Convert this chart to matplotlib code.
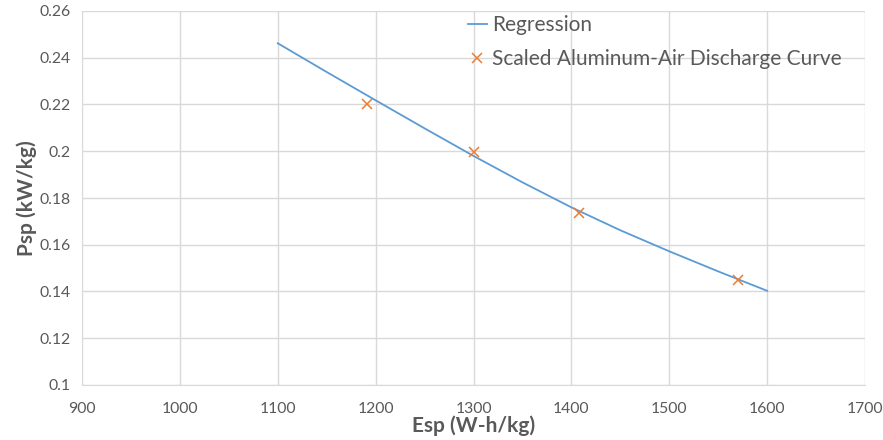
import matplotlib
matplotlib.use("Agg")
import matplotlib.pyplot as plt

# Regression curve
reg_x = [1100, 1150, 1200, 1250, 1300, 1350, 1400, 1450, 1500, 1550, 1600]
reg_y = [0.2462, 0.2339, 0.2218, 0.2098, 0.1980, 0.1867, 0.1760, 0.1662, 0.1572, 0.1486, 0.1403]

# Scaled aluminum-air discharge points
pts_x = [1191, 1300, 1408, 1570]
pts_y = [0.2201, 0.1998, 0.1735, 0.1449]

x_ticks = [900, 1000, 1100, 1200, 1300, 1400, 1500, 1600, 1700]
y_ticks = [0.1, 0.12, 0.14, 0.16, 0.18, 0.2, 0.22, 0.24, 0.26]
y_labels = ["0.1", "0.12", "0.14", "0.16", "0.18", "0.2", "0.22", "0.24", "0.26"]

plt.rcParams['font.family'] = ['Lato', 'DejaVu Sans']

fig = plt.figure(figsize=(8.83, 4.40), dpi=100)
ax = fig.add_axes([82/883, 55/440, (865-82)/883, (385-11)/440])

ax.plot(reg_x, reg_y, color='#5b9bd5', lw=1.3, label='Regression', zorder=3)
ax.plot(pts_x, pts_y, ls='none', marker='x', ms=7, mew=1.1, color='#ed7d31',
        label='Scaled Aluminum-Air Discharge Curve', zorder=4)

ax.set_xlim(900, 1700)
ax.set_ylim(0.1, 0.26)
ax.set_xticks(x_ticks)
ax.set_yticks(y_ticks)
ax.set_yticklabels(y_labels)
ax.grid(True, color='#d9d9d9', lw=1)
ax.set_axisbelow(True)
for s in ['top', 'right', 'left']:
    ax.spines[s].set_visible(False)
ax.spines['bottom'].set_color('#d9d9d9')
ax.tick_params(axis='both', length=0, colors='#595959', labelsize=11.3)
ax.tick_params(axis='x', pad=12)
ax.tick_params(axis='y', pad=8)

ax.set_xlabel('Esp (W-h/kg)', fontsize=15, fontweight='bold', color='#595959', labelpad=0)
ax.set_ylabel('Psp (kW/kg)', fontsize=15, fontweight='bold', color='#595959', labelpad=2)

leg = ax.legend(loc='upper left', bbox_to_anchor=(0.493, 0.988), frameon=False,
                handlelength=0.9, handletextpad=0.25, labelspacing=0.65,
                fontsize=15, borderaxespad=0, borderpad=0)
for t in leg.get_texts():
    t.set_color('#595959')

fig.savefig('out.png', dpi=100)
